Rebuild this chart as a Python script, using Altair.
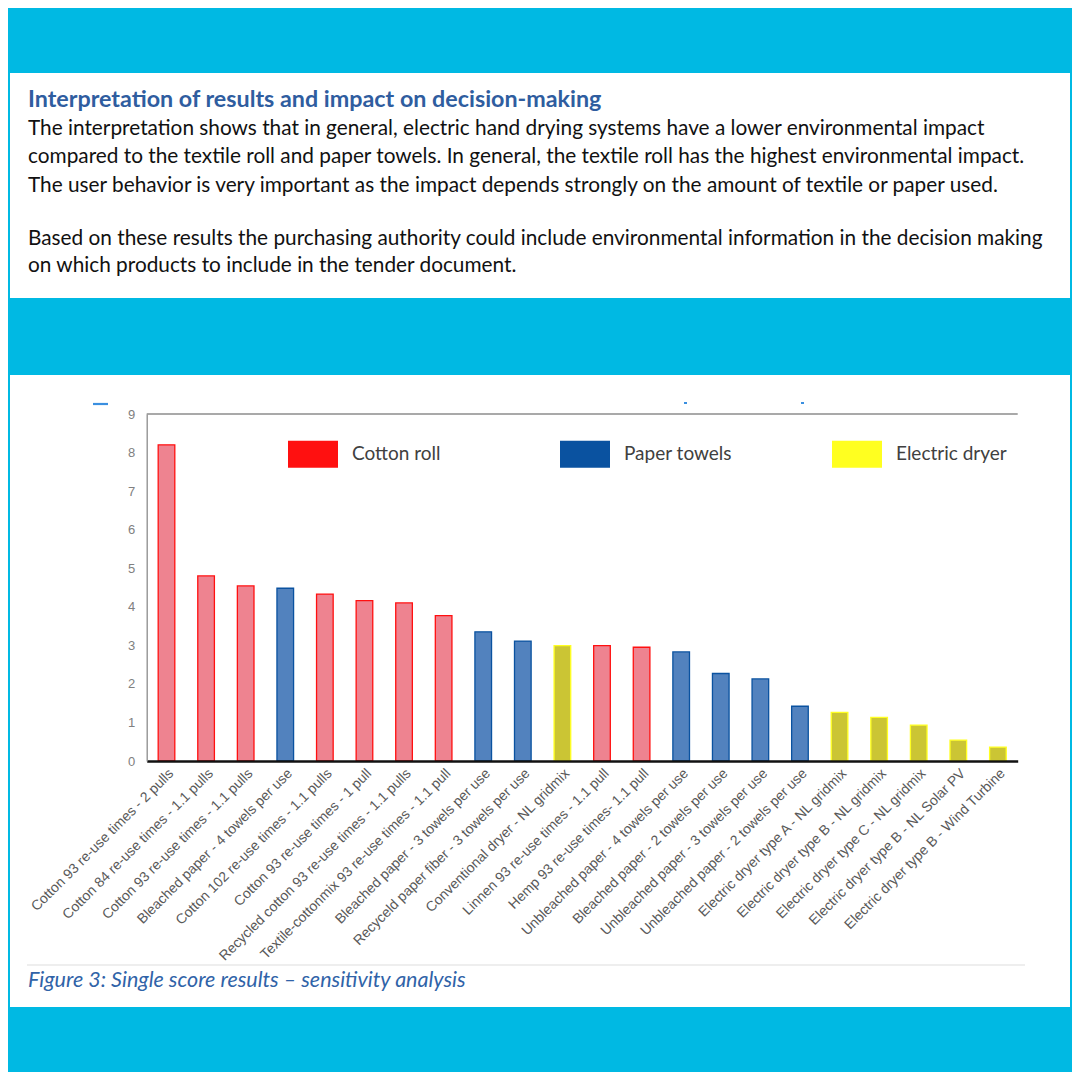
import altair as alt
import pandas as pd

# ---------------- data ----------------
labels = [
    "Cotton 93 re-use times - 2 pulls",
    "Cotton 84 re-use times - 1.1 pulls",
    "Cotton 93 re-use times - 1.1 pulls",
    "Bleached paper - 4 towels per use",
    "Cotton 102 re-use times - 1.1 pulls",
    "Cotton 93 re-use times - 1 pull",
    "Recycled cotton 93 re-use times - 1.1 pulls",
    "Textile-cottonmix 93 re-use times - 1.1 pull",
    "Bleached paper - 3 towels per use",
    "Recyceld paper fiber - 3 towels per use",
    "Conventional dryer - NL gridmix",
    "Linnen 93 re-use times - 1.1 pull",
    "Hemp 93 re-use times- 1.1 pull",
    "Unbleached paper - 4 towels per use",
    "Bleached paper - 2 towels per use",
    "Unbleached paper -  3 towels per use",
    "Unbleached paper -  2 towels per use",
    "Electric dryer type A - NL gridmix",
    "Electric dryer type B - NL gridmix",
    "Electric dryer type C - NL gridmix",
    "Electric dryer type B - NL Solar PV",
    "Electric dryer type B - Wind Turbine",
]
values = [8.2, 4.8, 4.54, 4.48, 4.33, 4.16, 4.10, 3.77, 3.35, 3.11, 2.99,
          2.99, 2.95, 2.83, 2.27, 2.13, 1.42, 1.26, 1.13, 0.93, 0.54, 0.36]
groups = ["Cotton roll", "Cotton roll", "Cotton roll", "Paper towels", "Cotton roll",
          "Cotton roll", "Cotton roll", "Cotton roll", "Paper towels", "Paper towels",
          "Electric dryer", "Cotton roll", "Cotton roll", "Paper towels", "Paper towels",
          "Paper towels", "Paper towels", "Electric dryer", "Electric dryer",
          "Electric dryer", "Electric dryer", "Electric dryer"]
legend_order = ["Cotton roll", "Paper towels", "Electric dryer"]
y_ticks = [0, 1, 2, 3, 4, 5, 6, 7, 8, 9]

title_text = "Interpretation of results and impact on decision-making"
body_lines = [
    "The interpretation shows that in general, electric hand drying systems have a lower environmental impact",
    "compared to the textile roll and paper towels. In general, the textile roll has the highest environmental impact.",
    "The user behavior is very important as the impact depends strongly on the amount of textile or paper used.",
    "Based on these results the purchasing authority could include environmental information in the decision making",
    "on which products to include in the tender document.",
]
caption_text = "Figure 3: Single score results \u2013 sensitivity analysis"

df = pd.DataFrame({"label": labels, "value": values, "group": groups})

# ---------------- styling ----------------
CYAN = "#00B9E3"
pure = ["#FF1010", "#0A52A0", "#FFFF20"]
muted = ["#EE8390", "#5282BE", "#CBC534"]
BODY_FONT = "Lato"
AXIS_FONT = "Liberation Sans"

W, H = 871, 347
# page -> plot coordinates offsets (plot origin at page x=146.7, y=414)
OX, OY = 146.7, 414.0


def px(x):
    return x - OX


def py(y):
    return y - OY


one = alt.Data(values=[{"a": 1}])


def panel(x1, y1, x2, y2):
    return alt.Chart(one).mark_rect(color="white").encode(
        x=alt.value(px(x1)), x2=alt.value(px(x2)),
        y=alt.value(py(y1)), y2=alt.value(py(y2)))


def hline(x1, x2, y, color, width):
    return alt.Chart(one).mark_rule(color=color, strokeWidth=width).encode(
        x=alt.value(px(x1)), x2=alt.value(px(x2)), y=alt.value(py(y)))


def text(t, x, y, size, color, weight="normal", style="normal", font=BODY_FONT):
    return alt.Chart(one).mark_text(
        align="left", baseline="middle", fontSize=size, color=color,
        fontWeight=weight, fontStyle=style, font=font).encode(
        x=alt.value(px(x)), y=alt.value(py(y)), text=alt.value(t))


panels = panel(10, 73, 1070, 298) + panel(10, 375, 1070, 1007)

# top frame line of the plot area (y = 9, the top of the value scale)
top_rule = alt.Chart(one).mark_rule(color="#8c8c8c", strokeWidth=1.3).encode(
    y=alt.value(0), x=alt.value(0), x2=alt.value("width"))

x_enc = alt.X(
    "label:N", sort=None,
    scale=alt.Scale(paddingInner=0.58, paddingOuter=0.29),
    axis=alt.Axis(title=None, labelAngle=-45, labelFont=AXIS_FONT, labelFontSize=14,
                  labelColor="#595959", ticks=False, labelPadding=5, labelLimit=400,
                  labelOverlap=False,
                  domainColor="#111111", domainWidth=2.5, zindex=1))
y_enc = alt.Y(
    "value:Q",
    scale=alt.Scale(domain=[0, 9], nice=False),
    axis=alt.Axis(title=None, values=y_ticks, tickCount=10, grid=False, ticks=False,
                  labelPadding=12, labelOverlap=False,
                  labelFont=AXIS_FONT, labelFontSize=13, labelColor="#808080",
                  domainColor="#8c8c8c", domainWidth=1.3, zindex=1))

bars = alt.Chart(df).mark_bar(strokeWidth=1.3).encode(
    x=x_enc, y=y_enc,
    fill=alt.Fill("group:N", scale=alt.Scale(domain=legend_order, range=muted), legend=None),
    stroke=alt.Stroke("group:N", scale=alt.Scale(domain=legend_order, range=pure), legend=None),
)

legend_layer = alt.Chart(df).mark_point(filled=True, opacity=0).encode(
    fill=alt.Fill(
        "group:N",
        scale=alt.Scale(domain=legend_order, range=pure),
        legend=alt.Legend(
            title=None, orient="none", legendX=px(288), legendY=py(429),
            direction="horizontal", gridAlign="all", columnPadding=97,
            symbolType="M-1,-0.54L1,-0.54L1,0.54L-1,0.54Z", symbolSize=2500,
            symbolOpacity=1, symbolStrokeWidth=0, labelOffset=14,
            labelFont=BODY_FONT, labelFontSize=19, labelColor="#404040",
            labelLimit=300, zindex=1)),
)

texts = [text(title_text, 28, 100, 23.3, "#2F5D9F", weight="bold")]
for t, yy in zip(body_lines, [129, 157, 186, 239, 266]):
    texts.append(text(t, 28, yy, 20.8, "#111111"))
texts.append(text(caption_text, 28, 981, 21.5, "#3063A8", style="italic"))

decor = (hline(27, 1025, 965, "#DDDDDD", 1.2)
         + hline(93, 108, 404, "#3A8FE0", 2.2)
         + hline(684, 687, 403, "#3A8FE0", 2)
         + hline(801, 804, 403, "#3A8FE0", 2))

chart = alt.layer(panels, decor, top_rule, bars, legend_layer, *texts).resolve_scale(
    fill="independent", stroke="independent"
).properties(
    width=W, height=H,
    autosize=alt.AutoSizeParams(type="none"),
    padding={"left": OX - 8, "top": OY - 8, "right": 1064 - (OX - 8) - W,
             "bottom": 1064 - (OY - 8) - H},
    background=CYAN,
).configure_view(stroke=None)

chart.save("out.html", embed_options={"renderer": "svg", "actions": False})
